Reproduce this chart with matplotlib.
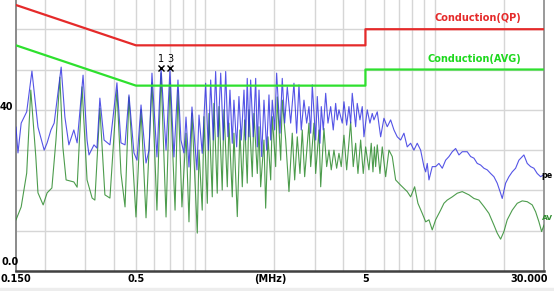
import matplotlib
matplotlib.use("Agg")
import matplotlib.pyplot as plt
from matplotlib.patches import Rectangle

# limit lines (MHz, dBuV)
qp_freq = [0.15, 0.5, 5.0, 5.0, 30.0]
qp_level = [66, 56, 56, 60, 60]
avg_freq = [0.15, 0.5, 5.0, 5.0, 30.0]
avg_level = [56, 46, 46, 50, 50]

# peak trace
peak_freq = [0.150, 0.153, 0.158, 0.167, 0.176, 0.187, 0.199, 0.205, 0.213, 0.220,
             0.236, 0.245, 0.255, 0.268, 0.277, 0.294, 0.306, 0.312, 0.328, 0.338,
             0.348, 0.363, 0.385, 0.413, 0.430, 0.448, 0.466, 0.490, 0.505, 0.526,
             0.553, 0.570, 0.587, 0.617, 0.643, 0.676, 0.703, 0.732, 0.762, 0.785,
             0.809, 0.826, 0.851, 0.877, 0.922,
             0.941, 0.972, 1.006, 1.033, 1.058, 1.086, 1.112, 1.138, 1.170, 1.201,
             1.230, 1.258, 1.284, 1.314, 1.336, 1.373, 1.405, 1.438, 1.478, 1.503,
             1.527, 1.554, 1.580, 1.622, 1.662, 1.689, 1.718, 1.765, 1.806, 1.856,
             1.899, 1.932, 1.963, 2.011, 2.051, 2.121, 2.170, 2.223,
             2.282, 2.361, 2.440, 2.507, 2.566, 2.626, 2.698, 2.772, 2.837, 2.886,
             2.933, 3.034, 3.084, 3.168, 3.210, 3.275, 3.355, 3.433, 3.527, 3.620,
             3.708, 3.768, 3.833, 3.962, 4.030, 4.141, 4.237, 4.310, 4.380, 4.532,
             4.605, 4.732, 4.842, 4.925, 5.091, 5.231, 5.353, 5.445,
             5.629, 5.824, 6.020, 6.223, 6.439, 6.656, 6.879, 7.118, 7.357, 7.605,
             7.869, 8.134, 8.408, 8.700, 8.993, 9.152, 9.297, 9.457, 9.774, 10.11,
             10.45, 10.81, 11.18, 11.56, 11.95, 12.36, 12.78, 13.21,
             13.88, 14.37, 14.85, 15.35, 15.88, 16.42, 16.97, 17.56, 18.15, 18.76,
             19.41, 19.73, 20.41, 21.10, 21.81, 22.56, 23.32, 24.52, 25.35, 26.23,
             27.11, 28.02, 29.00, 29.76]
peak_level = [35.7, 29.3, 36.7, 39.5, 49.6, 35.7, 30.0, 31.8, 35.0, 36.7,
              50.6, 38.2, 31.3, 35.0, 31.8, 48.6, 32.5, 28.8, 31.3, 30.5,
              42.9, 32.5, 31.3, 46.7, 31.8, 31.3, 43.7, 29.3, 27.5, 41.2,
              26.8, 30.0, 49.1, 28.3, 50.4, 30.0, 49.9, 28.3, 47.4, 32.5,
              29.3, 38.2, 25.8, 40.7, 25.1,
              38.7, 29.2, 46.6, 30.0, 47.4, 32.5, 49.5, 33.3, 49.1, 32.5,
              49.5, 33.3, 44.9, 31.7, 42.4, 30.8, 43.3, 32.5, 44.9, 32.5,
              47.8, 33.3, 47.4, 33.3, 47.8, 30.8, 44.9, 28.4, 42.4, 30.0,
              43.7, 32.5, 42.4, 35.0, 49.1, 34.2, 47.8, 36.7,
              45.7, 36.7, 46.6, 34.2, 46.2, 35.0, 42.4, 36.7, 40.8, 34.2,
              46.2, 32.5, 43.3, 31.7, 40.8, 35.0, 44.1, 36.7, 40.8, 35.0,
              41.6, 37.5, 40.0, 36.7, 42.0, 36.2, 40.8, 36.7, 44.1, 35.8,
              41.6, 37.5, 40.8, 33.3, 40.0, 36.7, 39.1, 37.5,
              39.5, 33.3, 37.9, 35.8, 37.5, 35.0, 33.3, 32.5, 34.2, 30.8,
              31.7, 30.0, 31.7, 30.0, 25.9, 24.6, 26.7, 22.6, 25.9, 25.9,
              26.7, 25.5, 27.5, 28.4, 29.6, 30.4, 28.8, 29.6,
              29.6, 28.4, 28.0, 26.7, 26.3, 25.5, 25.1, 24.2, 23.4, 21.8,
              19.3, 18.0, 21.8, 23.4, 24.6, 25.5, 27.5, 28.8, 26.7, 25.9,
              25.5, 24.2, 23.4, 23.8]

# average trace
av_freq = [0.150, 0.158, 0.167, 0.174, 0.183, 0.187, 0.197, 0.205, 0.215, 0.224,
           0.233, 0.240, 0.248, 0.268, 0.277, 0.291, 0.306, 0.322, 0.331, 0.348,
           0.366, 0.385, 0.413, 0.430, 0.448, 0.466, 0.500, 0.526, 0.553, 0.587,
           0.617, 0.643, 0.676, 0.703, 0.740, 0.762, 0.793, 0.826, 0.851, 0.877,
           0.925, 0.941, 0.972, 0.989, 1.023, 1.040, 1.075, 1.093, 1.130, 1.150,
           1.188, 1.209, 1.250, 1.271, 1.314, 1.336, 1.382, 1.419, 1.453, 1.488,
           1.527, 1.554, 1.606, 1.633, 1.689, 1.718, 1.747, 1.806, 1.837, 1.880,
           1.932, 1.963, 2.031, 2.064, 2.136, 2.170,
           2.246, 2.321, 2.399, 2.458, 2.523, 2.592, 2.652, 2.717, 2.837, 2.886,
           2.983, 3.034, 3.137, 3.191, 3.297, 3.388, 3.467, 3.548, 3.645, 3.745,
           3.833, 3.922, 4.030, 4.141, 4.310, 4.424, 4.532, 4.638, 4.765, 4.891,
           5.010, 5.178, 5.299, 5.391,
           5.472, 5.538, 5.629, 5.784, 5.919, 6.124, 6.330, 6.543, 6.770, 7.118,
           7.605, 7.869, 8.192, 8.467, 8.841, 9.152, 9.457, 9.774, 10.11, 10.63,
           10.99, 11.36, 11.95, 12.56, 13.21,
           14.13, 14.85, 15.61, 16.42, 17.26, 18.15, 18.76, 19.41, 20.07, 20.74,
           21.81, 22.93, 24.11, 25.35, 26.66, 27.58, 28.51, 29.29, 30.0]
av_level = [12.7, 15.9, 24.3, 44.9, 28.3, 19.4, 16.4, 19.4, 20.6, 32.5,
            48.1, 30.8, 22.6, 22.1, 20.8, 45.7, 22.6, 18.1, 17.6, 40.4,
            18.9, 18.1, 44.9, 24.3, 15.9, 43.2, 13.4, 40.0, 13.2, 46.7,
            15.1, 49.1, 13.4, 46.7, 15.1, 44.9, 15.9, 34.2, 12.2, 39.2,
            9.4, 30.0, 15.1, 38.3, 16.8, 39.1, 18.4, 41.6, 19.3, 40.8,
            20.1, 40.0, 20.9, 36.7, 18.4, 34.2, 13.5, 35.0, 20.9, 37.5,
            21.8, 40.0, 23.4, 39.1, 24.2, 35.8, 20.9, 32.5, 15.6, 33.3,
            22.6, 38.3, 25.9, 43.2, 27.5, 42.4,
            32.5, 19.7, 34.2, 22.6, 33.3, 24.2, 35.0, 23.4, 36.7, 25.9,
            36.7, 24.2, 35.0, 20.9, 35.4, 25.9, 30.0, 25.1, 30.0, 25.5,
            29.2, 25.9, 33.7, 25.1, 37.0, 25.9, 31.7, 24.2, 32.5, 24.2,
            30.8, 25.1, 31.7, 24.6,
            30.8, 25.9, 31.3, 24.2, 30.8, 23.4, 30.0, 28.4, 22.6, 21.3,
            19.7, 18.4, 20.9, 16.8, 14.3, 12.2, 12.7, 10.2, 12.7, 15.1,
            16.8, 17.6, 18.4, 19.3, 19.7,
            18.9, 18.0, 17.6, 16.0, 14.3, 11.4, 9.4, 7.9, 9.8, 12.7,
            15.1, 16.8, 17.4, 17.2, 16.4, 14.7, 12.2, 9.8, 11.4]

# marked points
mark_freq = [0.643, 0.703]
mark_level = [50.4, 50.4]
mark_labels = ["1", "3"]

grid_freq = [0.2, 0.3, 0.4, 0.5, 0.6, 0.7, 0.8, 0.9, 1, 2, 3, 4, 5, 6, 7, 8, 9, 10, 20]
grid_level = [10, 20, 30, 40, 50, 60]

W, H = 554, 291
fig = plt.figure(figsize=(W / 100, H / 100), dpi=100)
fig.patches.append(Rectangle((0, 0), 1, 3 / H, transform=fig.transFigure,
                             color="#ededed", zorder=0))
ax = fig.add_axes([16 / W, 20 / H, 528 / W, 271 / H])
ax.set_xscale("log")
ax.set_xlim(0.15, 30)
ax.set_ylim(0, 67.25)

for f in grid_freq:
    ax.axvline(f, color="#d6d6d6", lw=1.0, zorder=1)
for v in grid_level:
    ax.axhline(v, color="#d6d6d6", lw=1.0, zorder=1)

ax.plot(av_freq, av_level, color="#2e8b2e", lw=0.8, alpha=0.85, zorder=3)
ax.plot(peak_freq, peak_level, color="#2a2ae0", lw=0.8, alpha=0.8, zorder=4)
ax.plot(qp_freq, qp_level, color="#e52a2a", lw=1.6, zorder=5)
ax.plot(avg_freq, avg_level, color="#2ee02e", lw=1.6, zorder=5)

ax.plot(mark_freq, mark_level, "x", color="black", ms=5, mew=1.0, zorder=6)
for f, v, t in zip(mark_freq, mark_level, mark_labels):
    ax.text(f, v + 2.2, t, ha="center", va="center", fontsize=7, zorder=6)

narrow = ["Liberation Sans Narrow", "DejaVu Sans"]
ax.text(23.8, 62.8, "Conduction(QP)", color="#e52a2a", fontsize=7,
        fontweight="bold", family=narrow, ha="right", va="center")
ax.text(23.8, 52.6, "Conduction(AVG)", color="#1ed81e", fontsize=7,
        fontweight="bold", family=narrow, ha="right", va="center")

ax.spines["top"].set_visible(False)
ax.spines["left"].set_color("#8a8a8a")
ax.spines["left"].set_linewidth(1.4)
ax.spines["right"].set_color("#9a9a9a")
ax.spines["right"].set_linewidth(1.4)
ax.spines["bottom"].set_color("#404040")
ax.spines["bottom"].set_linewidth(1.8)

ax.set_xticks([])
ax.set_yticks([])
ax.minorticks_off()

# axis labels drawn as text
lab = dict(fontsize=7, fontweight="bold", va="center")
ty = 1 - 279 / H
fig.text(16 / W, ty, "0.150", ha="center", **lab)
fig.text(136 / W, ty, "0.5", ha="center", **lab)
fig.text(270 / W, ty, "(MHz)", ha="center", **lab)
fig.text(366 / W, ty, "5", ha="center", **lab)
fig.text(548 / W, ty, "30.000", ha="right", **lab)
fig.text(13 / W, 1 - 107 / H, "40", ha="right", **lab)
fig.text(1 / W, 1 - 262 / H, "0.0", ha="left", **lab)
fig.text(553 / W, 1 - 176 / H, "pe", ha="right", fontsize=5.8, fontweight="bold",
         family=narrow, va="center", color="black")
fig.text(553 / W, 1 - 218 / H, "AV", ha="right", fontsize=5.4, fontweight="bold",
         family=narrow, va="center", color="#2e8b2e")

fig.savefig("out.png", dpi=100)
